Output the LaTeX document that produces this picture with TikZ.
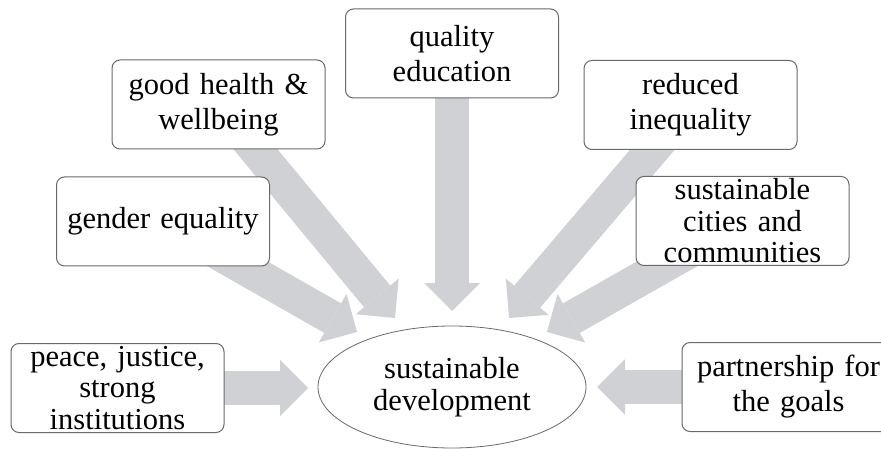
\documentclass[tikz,border=0pt]{standalone}
\usepackage{fontspec}
\setmainfont{Liberation Serif}
\usetikzlibrary{arrows.meta}
\usetikzlibrary{shapes.geometric}
\usetikzlibrary{backgrounds}
\definecolor{arrowgray}{RGB}{208,209,213}
\definecolor{edgegray}{RGB}{105,105,105}
\tikzset{
  goal/.style={draw=edgegray, line width=1pt, rounded corners=8pt, fill=white,
    minimum width=213pt, minimum height=89pt, inner sep=0pt,
    text width=213pt, align=center, font=\fontsize{30.5}{35}\selectfont},
  tight/.style={font=\fontsize{30.5}{31.5}\selectfont},
  feed/.style={draw=arrowgray, line width=34pt,
    -{Triangle[width=56pt, length=28pt, line width=0pt]}},
}

\begin{document}
\begin{tikzpicture}[x=1pt, y=-1pt]
    \useasboundingbox (0,0) rectangle (881,449);

    % the goals round the centre
    \node[goal] (quality) at (452,53.5) {quality\\education};
    \node[goal] (health) at (218.5,104.5) {good health \&\\wellbeing};
    \node[goal] (gender) at (163,221.5) {gender equality};
    \node[goal] (reduced) at (690.5,105) {reduced\\inequality};
    \node[goal, tight] (cities) at (742.5,221) {sustainable\\cities and\\communities};
    \node[goal, tight] (peace) at (117.5,388) {peace, justice,\\strong\\institutions};
    \node[goal] (partner) at (788.5,387) {partnership for\\the goals};

    \node[ellipse, draw=edgegray, line width=0.8pt, minimum width=268pt,
      minimum height=122pt, inner sep=0pt, align=center, tight] (sd) at (452,387)
      {sustainable\\development};

    % arrow tips, just short of the ellipse
    \coordinate (tq) at (452,311);
    \coordinate (th) at (395,318);
    \coordinate (tg) at (357,332);
    \coordinate (tr) at (509,318);
    \coordinate (tc) at (547,332);
    \coordinate (tp) at (308,388);
    \coordinate (tn) at (597,387);

    \begin{scope}[on background layer]
      \draw[feed] (quality.center) -- (tq);
      \draw[feed] (health.center) -- (th);
      \draw[feed] (gender.center) -- (tg);
      \draw[feed] (reduced.center) -- (tr);
      \draw[feed] (cities.center) -- (tc);
      \draw[feed] (peace.center) -- (tp);
      \draw[feed] (partner.center) -- (tn);
    \end{scope}
  \end{tikzpicture}
\end{document}
